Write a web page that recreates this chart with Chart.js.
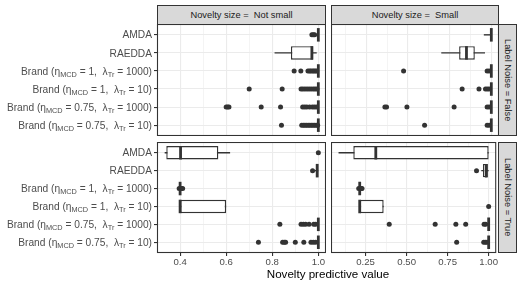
<!DOCTYPE html>
<html><head><meta charset="utf-8">
<script src="https://cdn.jsdelivr.net/npm/chart.js@4.4.0/dist/chart.umd.min.js"></script>
<style>
html,body{margin:0;padding:0;background:#fff;}
#wrap{position:relative;width:522px;height:287px;overflow:hidden;font-family:"Liberation Sans",Arial,sans-serif;background:#fff;}
#wrap canvas{position:absolute;}
.strip{position:absolute;box-sizing:border-box;background:#D9D9D9;border:1px solid #333;color:#1A1A1A;font-size:9.3px;display:flex;align-items:center;justify-content:center;white-space:pre;}
.vstrip{writing-mode:vertical-rl;}
#xtitle{position:absolute;left:178px;width:300px;top:267px;height:13px;line-height:13px;font-size:11.6px;text-align:center;color:#000;}
</style></head>
<body>
<div id="wrap">
  <canvas id="cTL" width="326" height="112" style="left:0;top:24px"></canvas>
  <canvas id="cTR" width="168" height="112" style="left:331px;top:24px"></canvas>
  <canvas id="cBL" width="326" height="136" style="left:0;top:142px"></canvas>
  <canvas id="cBR" width="168" height="136" style="left:331px;top:142px"></canvas>
  <div class="strip" id="sC0" style="left:157px;top:5px;width:169px;height:20px"></div>
  <div class="strip" id="sC1" style="left:331px;top:5px;width:168px;height:20px"></div>
  <div class="strip vstrip" id="sR0" style="left:498px;top:24px;width:19px;height:112px"></div>
  <div class="strip vstrip" id="sR1" style="left:498px;top:142px;width:19px;height:111px"></div>
  <div id="xtitle"></div>
</div>
<script>
// ---------- labels ----------
const categories = [
  'AMDA',
  'RAEDDA',
  'Brand (η_{MCD} = 1,  λ_{Tr} = 1000)',
  'Brand (η_{MCD} = 1,  λ_{Tr} = 10)',
  'Brand (η_{MCD} = 0.75,  λ_{Tr} = 1000)',
  'Brand (η_{MCD} = 0.75,  λ_{Tr} = 10)'
];
const stripCols = ['Novelty size =  Not small', 'Novelty size =  Small'];
const stripRows = ['Label Noise = False', 'Label Noise = True'];
const xTitle = 'Novelty predictive value';

// ---------- x axes ----------
const notSmallTicks  = [0.3, 0.4, 0.5, 0.6, 0.7, 0.8, 0.9, 1.0];
const notSmallMajor  = [0.4, 0.6, 0.8, 1.0];
const notSmallLabels = ['0.4', '0.6', '0.8', '1.0'];
const notSmallRange  = [0.2997, 1.0333];
const smallTicks  = [0.125, 0.25, 0.375, 0.5, 0.625, 0.75, 0.875, 1.0];
const smallMajor  = [0.25, 0.5, 0.75, 1.0];
const smallLabels = ['0.25', '0.50', '0.75', '1.00'];
const smallRange  = [0.039, 1.046];

// ---------- Label Noise = False, Novelty size = Not small ----------
const fNsLower  = [0.990, 0.810, 1.000, 1.000, 1.000, 1.000];
const fNsQ1     = [0.998, 0.881, 1.000, 1.000, 1.000, 1.000];
const fNsMedian = [1.000, 0.972, 1.000, 1.000, 1.000, 1.000];
const fNsQ3     = [1.000, 0.978, 1.000, 1.000, 1.000, 1.000];
const fNsUpper  = [1.000, 0.993, 1.000, 1.000, 1.000, 1.000];
const fNsOutliers = [
  [0.972, 0.978, 0.984],
  [],
  [0.895, 0.924, 0.955, 0.962, 0.968, 0.975, 0.981, 0.987, 0.993],
  [0.700, 0.843, 0.925, 0.933, 0.942, 0.951, 0.960, 0.969, 0.978, 0.986, 0.994],
  [0.600, 0.606, 0.612, 0.752, 0.836, 0.932, 0.941, 0.950, 0.962, 0.974, 0.983, 0.992],
  [0.840, 0.928, 0.935, 0.942, 0.949, 0.956, 0.963, 0.970, 0.977, 0.984, 0.991, 0.997]
];

// ---------- Label Noise = False, Novelty size = Small ----------
const fSLower  = [0.955, 0.700, 1.000, 1.000, 1.000, 1.000];
const fSQ1     = [0.995, 0.807, 1.000, 1.000, 1.000, 1.000];
const fSMedian = [1.000, 0.851, 1.000, 1.000, 1.000, 1.000];
const fSQ3     = [1.000, 0.901, 1.000, 1.000, 1.000, 1.000];
const fSUpper  = [1.000, 0.962, 1.000, 1.000, 1.000, 1.000];
const fSOutliers = [
  [],
  [],
  [0.474, 0.975, 0.987],
  [0.825, 0.926, 0.965, 0.976, 0.987],
  [0.362, 0.372, 0.494, 0.777, 0.975, 0.987],
  [0.600, 0.975, 0.987]
];

// ---------- Label Noise = True, Novelty size = Not small ----------
const tNsLower  = [0.333, 0.985, 0.400, 0.400, 1.000, 1.000];
const tNsQ1     = [0.340, 0.990, 0.400, 0.400, 1.000, 1.000];
const tNsMedian = [0.402, 0.995, 0.400, 0.400, 1.000, 1.000];
const tNsQ3     = [0.566, 1.000, 0.400, 0.600, 1.000, 1.000];
const tNsUpper  = [0.617, 1.000, 0.400, 0.600, 1.000, 1.000];
const tNsOutliers = [
  [1.000],
  [0.975],
  [0.396, 0.405, 0.411],
  [],
  [0.833, 0.925, 0.935, 0.945, 0.960, 0.980, 0.988],
  [0.740, 0.845, 0.852, 0.858, 0.900, 0.937, 0.968, 0.978, 0.988]
];

// ---------- Label Noise = True, Novelty size = Small ----------
const tSLower  = [0.085, 0.955, 0.214, 0.214, 1.000, 1.000];
const tSQ1     = [0.175, 0.965, 0.214, 0.214, 1.000, 1.000];
const tSMedian = [0.312, 0.985, 0.214, 0.214, 1.000, 1.000];
const tSQ3     = [1.000, 0.995, 0.214, 0.360, 1.000, 1.000];
const tSUpper  = [1.000, 1.000, 0.214, 0.360, 1.000, 1.000];
const tSOutliers = [
  [],
  [0.926],
  [0.208, 0.222, 0.228],
  [1.000],
  [0.394, 0.674, 0.800, 0.860, 0.972, 0.982],
  [0.805, 0.970, 0.980, 0.990]
];

// ---------- page text ----------
document.getElementById('sC0').textContent = stripCols[0];
document.getElementById('sC1').textContent = stripCols[1];
document.getElementById('sR0').textContent = stripRows[0];
document.getElementById('sR1').textContent = stripRows[1];
document.getElementById('xtitle').textContent = xTitle;

Chart.defaults.font.family = "'Liberation Sans', Arial, sans-serif";
const DARK = '#333333';
const XFONT_PX = 9.6;
const YFONT_PX = 10.2;

function parseRich(s) {
  const parts = []; const re = /_\{([^}]*)\}/g; let last = 0, m;
  while ((m = re.exec(s))) {
    if (m.index > last) parts.push({t: s.slice(last, m.index), sub: false});
    parts.push({t: m[1], sub: true});
    last = re.lastIndex;
  }
  if (last < s.length) parts.push({t: s.slice(last), sub: false});
  return parts;
}

const richYLabels = {
  id: 'richYLabels',
  afterDraw(chart) {
    const ys = chart.scales.y; const ctx = chart.ctx;
    const mainFont = YFONT_PX + "px 'Liberation Sans', Arial, sans-serif";
    const subFont = (YFONT_PX * 0.72).toFixed(2) + "px 'Liberation Sans', Arial, sans-serif";
    const xRight = chart.chartArea.left - 3 - 2;
    ctx.save();
    ctx.fillStyle = '#4D4D4D';
    ctx.textBaseline = 'alphabetic';
    ctx.textAlign = 'left';
    categories.forEach((lab, i) => {
      const parts = parseRich(lab);
      let w = 0;
      parts.forEach(p => { ctx.font = p.sub ? subFont : mainFont; p.w = ctx.measureText(p.t).width; w += p.w; });
      let x = xRight - w;
      const base = ys.getPixelForValue(i) + 3.6;
      parts.forEach(p => {
        ctx.font = p.sub ? subFont : mainFont;
        ctx.fillText(p.t, x, p.sub ? base + 2 : base);
        x += p.w;
      });
    });
    ctx.restore();
  }
};

const panelBorder = {
  id: 'panelBorder',
  afterDraw(chart) {
    const a = chart.chartArea; const ctx = chart.ctx;
    ctx.save(); ctx.strokeStyle = DARK; ctx.lineWidth = 1.1;
    ctx.strokeRect(a.left + 0.5, a.top + 0.5, a.right - a.left - 1, a.bottom - a.top - 1);
    ctx.restore();
  }
};

function buildDatasets(lower, q1, median, q3, upper, outliers) {
  return [
    {type: 'scatter', order: 0,
     data: outliers.flatMap((arr, i) => arr.map(v => ({x: v, y: i}))),
     pointRadius: 2.5, pointHoverRadius: 2.5, pointBackgroundColor: DARK, pointBorderWidth: 0},
    {type: 'scatter', order: 1,
     data: median.map((v, i) => ({x: v, y: i})),
     pointStyle: 'line', pointRotation: 90, pointRadius: 6.75, pointHoverRadius: 6.75,
     pointBorderWidth: 2.8, pointBorderColor: DARK, borderColor: DARK},
    {type: 'bar', order: 2, grouped: false,
     data: q1.map((v, i) => ({y: i, x: [v, q3[i]]})),
     backgroundColor: '#FFFFFF', borderColor: DARK, borderWidth: 1.4, borderSkipped: false,
     inflateAmount: 0, categoryPercentage: 1, barPercentage: 0.75},
    {type: 'bar', order: 3, grouped: false,
     data: lower.map((v, i) => ({y: i, x: [v, upper[i]]})),
     backgroundColor: DARK, borderWidth: 0, inflateAmount: 0,
     categoryPercentage: 1, barPercentage: 1, maxBarThickness: 1.4}
  ];
}

function near(a, b) { return Math.abs(a - b) < 1e-6; }

function makePanel(id, stats, xt, showY, showX) {
  const [ticks, majors, labels, range] = xt;
  const isMajor = v => majors.some(m => near(m, v));
  return new Chart(document.getElementById(id), {
    type: 'bar',
    data: {datasets: buildDatasets(...stats)},
    options: {
      indexAxis: 'y',
      responsive: false, maintainAspectRatio: false, animation: false, devicePixelRatio: 1,
      events: [],
      layout: {padding: 0, autoPadding: false},
      plugins: {legend: {display: false}, tooltip: {enabled: false}, title: {display: false}},
      scales: {
        x: {
          type: 'linear', position: 'bottom', min: range[0], max: range[1], offset: false,
          afterBuildTicks: s => { s.ticks = ticks.map(v => ({value: v})); },
          afterFit: s => { s.height = showX ? 25 : 0; },
          border: {display: false},
          grid: {
            offset: false, drawOnChartArea: true, drawTicks: showX, tickLength: 3,
            color: '#EBEBEB',
            lineWidth: c => (c.tick && isMajor(c.tick.value)) ? 1.1 : 0.55,
            tickColor: c => (c.tick && isMajor(c.tick.value)) ? DARK : 'rgba(0,0,0,0)',
            tickWidth: 1.1
          },
          ticks: {
            display: showX, padding: 1, color: '#4D4D4D', maxRotation: 0, autoSkip: false,
            font: {size: XFONT_PX},
            callback: (v) => { const k = majors.findIndex(m => near(m, v)); return k >= 0 ? labels[k] : ''; }
          }
        },
        y: {
          type: 'linear', position: 'left', min: -0.6, max: 5.6, reverse: true, offset: false,
          afterBuildTicks: s => { s.ticks = categories.map((_, i) => ({value: i})); },
          afterFit: s => { s.width = showY ? 157 : 0; },
          border: {display: false},
          grid: {offset: false, color: '#EBEBEB', lineWidth: 1.1, drawTicks: showY, tickLength: 3,
                 tickColor: DARK, tickWidth: 1.1},
          ticks: {display: false}
        }
      }
    },
    plugins: showY ? [richYLabels, panelBorder] : [panelBorder]
  });
}

const notSmallAxis = [notSmallTicks, notSmallMajor, notSmallLabels, notSmallRange];
const smallAxis = [smallTicks, smallMajor, smallLabels, smallRange];

makePanel('cTL', [fNsLower, fNsQ1, fNsMedian, fNsQ3, fNsUpper, fNsOutliers], notSmallAxis, true, false);
makePanel('cTR', [fSLower, fSQ1, fSMedian, fSQ3, fSUpper, fSOutliers], smallAxis, false, false);
makePanel('cBL', [tNsLower, tNsQ1, tNsMedian, tNsQ3, tNsUpper, tNsOutliers], notSmallAxis, true, true);
makePanel('cBR', [tSLower, tSQ1, tSMedian, tSQ3, tSUpper, tSOutliers], smallAxis, false, true);
</script>
</body></html>
